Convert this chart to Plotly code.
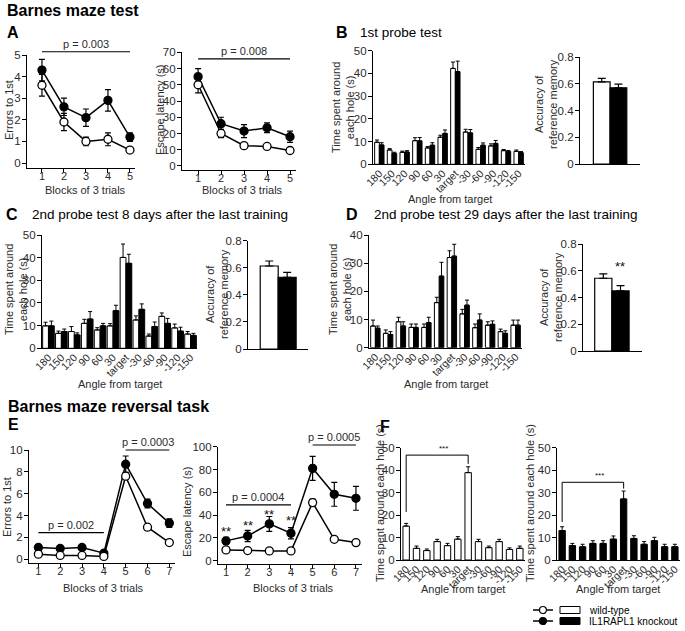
import plotly.graph_objects as go

W, H = 685, 631
FONT = "Arial, 'Liberation Sans', sans-serif"
TXT = "#2b2b2b"

# ---------------- data ----------------
blocks_a = [1, 2, 3, 4, 5]
a_err_wt = [3.6, 1.9, 1.0, 1.1, 0.6]
a_err_wt_se = [0.5, 0.4, 0.2, 0.3, 0.05]
a_err_ko = [4.3, 2.6, 2.1, 2.9, 1.2]
a_err_ko_se = [0.5, 0.4, 0.4, 0.5, 0.2]
a_lat_wt = [50, 20, 12.5, 12, 9.5]
a_lat_wt_se = [5, 2.5, 1, 1, 1]
a_lat_ko = [55, 26, 21.5, 23.5, 18]
a_lat_ko_se = [5, 4, 4, 3, 3.5]

angles = ["180", "150", "120", "90", "60", "30", "target", "-30", "-60", "-90", "-120", "-150"]

b_wt = [9.7, 6.3, 5.3, 10.4, 7.2, 11.9, 42.2, 14.2, 6.6, 8.1, 6.0, 5.7]
b_wt_se = [1.0, 0.6, 0.5, 1.3, 0.6, 0.9, 2.8, 1.2, 0.8, 0.9, 0.5, 0.6]
b_ko = [8.5, 4.8, 5.4, 10.3, 8.4, 13.6, 40.8, 13.8, 8.4, 9.2, 5.6, 5.1]
b_ko_se = [1.0, 0.5, 0.6, 1.5, 1.1, 1.5, 4.6, 1.5, 1.0, 1.3, 0.5, 0.5]
b_acc = [0.614, 0.570]
b_acc_se = [0.026, 0.027]

c_wt = [9.9, 6.6, 7.4, 11.0, 8.1, 9.9, 40.1, 12.5, 5.4, 14.1, 9.0, 6.3]
c_wt_se = [1.6, 1.0, 2.2, 1.8, 1.0, 1.0, 5.9, 1.8, 0.9, 1.5, 1.7, 1.1]
c_ko = [9.9, 7.4, 5.9, 12.9, 9.9, 16.6, 37.5, 17.2, 9.6, 11.0, 7.6, 5.7]
c_ko_se = [2.1, 1.1, 0.9, 3.3, 1.1, 2.4, 4.0, 2.4, 2.0, 2.2, 1.7, 0.9]
c_acc = [0.613, 0.530]
c_acc_se = [0.037, 0.036]

d_wt = [7.7, 5.1, 9.2, 7.2, 7.2, 16.0, 32.0, 12.0, 7.1, 8.0, 5.7, 8.0]
d_wt_se = [2.1, 1.2, 1.6, 1.2, 1.2, 1.9, 2.4, 1.6, 1.3, 1.2, 0.9, 1.8]
d_ko = [6.9, 4.7, 7.7, 7.2, 8.9, 25.4, 32.5, 15.1, 9.8, 8.3, 5.1, 8.0]
d_ko_se = [0.8, 1.0, 1.5, 1.2, 1.9, 4.9, 4.2, 1.8, 2.2, 1.2, 0.9, 1.8]
d_acc = [0.544, 0.449]
d_acc_se = [0.032, 0.040]

blocks_e = [1, 2, 3, 4, 5, 6, 7]
e_err_wt = [0.46, 0.34, 0.34, 0.25, 7.6, 2.93, 1.52]
e_err_wt_se = [0.1, 0.1, 0.1, 0.05, 0.3, 0.25, 0.15]
e_err_ko = [1.07, 0.98, 1.07, 0.55, 8.7, 5.1, 3.3]
e_err_ko_se = [0.15, 0.15, 0.15, 0.1, 0.75, 0.4, 0.4]
e_lat_wt = [9.4, 8.8, 8.5, 8.5, 50.9, 18.7, 15.8]
e_lat_wt_se = [1, 1, 0.8, 0.8, 3, 1.5, 1.5]
e_lat_ko = [17.3, 21.6, 32.2, 24.0, 81.0, 58.2, 54.7]
e_lat_ko_se = [3, 5, 6.5, 5, 10.5, 10.5, 10.5]

f_wt = [15.1, 5.2, 4.2, 8.2, 6.4, 9.3, 38.9, 8.2, 5.5, 8.2, 4.7, 5.2]
f_wt_se = [1.2, 1.0, 0.7, 1.0, 1.0, 1.1, 2.6, 1.0, 0.7, 1.0, 0.7, 1.0]
f_ko = [13.1, 6.4, 5.9, 7.4, 7.4, 9.3, 27.2, 9.6, 7.0, 8.6, 5.9, 5.9]
f_ko_se = [1.7, 1.0, 1.1, 1.2, 1.2, 1.4, 3.5, 1.2, 1.2, 1.5, 1.1, 1.1]

p_labels = ["p = 0.003", "p = 0.008", "p = 0.002", "p = 0.0003", "p = 0.0004", "p = 0.0005"]

# ---------------- layout geometry (pixels) ----------------
P = {
    1: dict(x=(27, 135), y=(168, 55), xr=[0.32, 5.23], yr=[-0.23, 5], dt=1, kind="line"),
    2: dict(x=(182, 296), y=(170, 52.3), xr=[0.30, 5.26], yr=[-2.5, 70], dt=10, kind="line"),
    3: dict(x=(373, 525), y=(164.3, 50.7), xr=[-0.5, 11.5], yr=[0, 50], dt=10, kind="bar"),
    4: dict(x=(580, 640), y=(164, 57), xr=[-1.3, 2.29], yr=[0, 0.8], dt=0.2, kind="acc"),
    5: dict(x=(42, 197), y=(348.3, 235), xr=[-0.5, 11.5], yr=[0, 50], dt=10, kind="bar"),
    6: dict(x=(248, 308), y=(349, 240.7), xr=[-1.18, 2.16], yr=[0, 0.8], dt=0.2, kind="acc"),
    7: dict(x=(369, 522), y=(347.7, 235), xr=[-0.5, 11.5], yr=[0, 40], dt=10, kind="bar"),
    8: dict(x=(583, 642), y=(351, 244), xr=[-1.18, 2.25], yr=[0, 0.8], dt=0.2, kind="acc"),
    9: dict(x=(29, 175), y=(563, 450), xr=[0.57, 7.26], yr=[-0.35, 10], dt=2, kind="line"),
    10: dict(x=(218, 362), y=(564, 446.7), xr=[0.63, 7.28], yr=[-3, 100], dt=20, kind="line"),
    11: dict(x=(401, 525), y=(560, 447.7), xr=[-0.5, 11.5], yr=[0, 50], dt=10, kind="bar"),
    12: dict(x=(557, 680), y=(560, 447.7), xr=[-0.5, 11.5], yr=[0, 50], dt=10, kind="bar"),
}


def PX(x):
    return x / W


def PY(y):
    return 1 - y / H


def xa(n):
    return "x" if n == 1 else f"x{n}"


def ya(n):
    return "y" if n == 1 else f"y{n}"


def xd(n):
    return xa(n) + " domain"


def yd(n):
    return ya(n) + " domain"


def fx(n, v):
    r = P[n]["xr"]
    return (v - r[0]) / (r[1] - r[0])


def fy(n, v):
    r = P[n]["yr"]
    return (v - r[0]) / (r[1] - r[0])


layout = dict(
    width=W, height=H, autosize=False,
    margin=dict(l=0, r=0, t=0, b=0, pad=0),
    paper_bgcolor="white", plot_bgcolor="white",
    showlegend=False, barmode="overlay",
    font=dict(family=FONT, size=11, color=TXT),
)

for n, p in P.items():
    xk = "xaxis" if n == 1 else f"xaxis{n}"
    yk = "yaxis" if n == 1 else f"yaxis{n}"
    xax = dict(domain=[PX(p["x"][0]), PX(p["x"][1])], anchor=ya(n), range=p["xr"],
               showline=True, linecolor="black", linewidth=1.2, showgrid=False,
               zeroline=False, fixedrange=True, automargin=False,
               tickfont=dict(family=FONT, size=11, color=TXT))
    if p["kind"] == "line":
        xax.update(tickmode="array", tickvals=blocks_e if n >= 9 else blocks_a,
                   ticks="outside", ticklen=4, tickcolor="black", tickwidth=1.2,
                   ticklabelstandoff=-6)
    elif p["kind"] == "bar":
        xax.update(type="category", categoryorder="array", categoryarray=angles,
                   tickmode="array", tickvals=angles, ticktext=angles,
                   ticks="", tickangle=-45, ticklabelstandoff=-2,
                   tickfont=dict(family=FONT, size=10.5, color=TXT))
    else:
        xax.update(showticklabels=False, ticks="")
    yax = dict(domain=[PY(p["y"][0]), PY(p["y"][1])], anchor=xa(n), range=p["yr"],
               showline=True, linecolor="black", linewidth=1.2, showgrid=False,
               zeroline=False, fixedrange=True, automargin=False, ticks="outside", ticklen=4,
               tickcolor="black", tickwidth=1.2, tick0=0, dtick=p["dt"], ticklabelstandoff=-1,
               tickfont=dict(family=FONT, size=11.5, color=TXT))
    layout[xk] = xax
    layout[yk] = yax

traces = []


def line_trace(n, x, y, e, filled):
    traces.append(go.Scatter(
        x=x, y=y, mode="lines+markers", xaxis=xa(n), yaxis=ya(n),
        line=dict(color="black", width=1.5),
        marker=dict(symbol="circle", size=8, color="black" if filled else "white",
                    line=dict(color="black", width=1.3)),
        error_y=dict(type="data", array=e, color="black", thickness=1.2, width=3),
        cliponaxis=False, showlegend=False))


def bar_trace(n, y, e, filled, w, off):
    traces.append(go.Bar(
        x=angles, y=y, xaxis=xa(n), yaxis=ya(n), width=w, offset=off,
        marker=dict(color="black" if filled else "white", line=dict(color="black", width=1)),
        error_y=dict(type="data", array=e, arrayminus=[0] * len(e), symmetric=False,
                     color="black", thickness=1, width=2),
        showlegend=False))


def acc_trace(n, y, e):
    traces.append(go.Bar(
        x=[0, 1], y=y, xaxis=xa(n), yaxis=ya(n), width=1, offset=-0.5,
        marker=dict(color=["white", "black"], line=dict(color="black", width=1.2)),
        error_y=dict(type="data", array=e, arrayminus=[0, 0], symmetric=False,
                     color="black", thickness=1.2, width=4),
        showlegend=False))


# A
line_trace(1, blocks_a, a_err_ko, a_err_ko_se, True)
line_trace(1, blocks_a, a_err_wt, a_err_wt_se, False)
line_trace(2, blocks_a, a_lat_ko, a_lat_ko_se, True)
line_trace(2, blocks_a, a_lat_wt, a_lat_wt_se, False)
# B
bar_trace(3, b_wt, b_wt_se, False, 0.37, -0.37)
bar_trace(3, b_ko, b_ko_se, True, 0.37, 0)
acc_trace(4, b_acc, b_acc_se)
# C
bar_trace(5, c_wt, c_wt_se, False, 0.45, -0.45)
bar_trace(5, c_ko, c_ko_se, True, 0.45, 0)
acc_trace(6, c_acc, c_acc_se)
# D
bar_trace(7, d_wt, d_wt_se, False, 0.37, -0.37)
bar_trace(7, d_ko, d_ko_se, True, 0.37, 0)
acc_trace(8, d_acc, d_acc_se)
# E
line_trace(9, blocks_e, e_err_ko, e_err_ko_se, True)
line_trace(9, blocks_e, e_err_wt, e_err_wt_se, False)
line_trace(10, blocks_e, e_lat_ko, e_lat_ko_se, True)
line_trace(10, blocks_e, e_lat_wt, e_lat_wt_se, False)
# F
bar_trace(11, f_wt, f_wt_se, False, 0.62, -0.31)
bar_trace(12, f_ko, f_ko_se, True, 0.62, -0.31)

ann = []
shapes = []


def text(x, y, s, size=11, angle=0, xanchor="center", yanchor="middle", color=TXT):
    ann.append(dict(x=PX(x), y=PY(y), xref="paper", yref="paper", text=s, showarrow=False,
                    font=dict(family=FONT, size=size, color=color), textangle=angle,
                    xanchor=xanchor, yanchor=yanchor))


def pbar(n, x0, x1, yv, label):
    shapes.append(dict(type="line", xref=xd(n), yref=yd(n), x0=fx(n, x0), x1=fx(n, x1),
                       y0=fy(n, yv), y1=fy(n, yv), line=dict(color="black", width=1.2)))
    ann.append(dict(xref=xd(n), yref=yd(n), x=fx(n, (x0 + x1) / 2), y=fy(n, yv),
                    yanchor="bottom", xanchor="center", text=label, showarrow=False,
                    font=dict(family=FONT, size=11, color=TXT)))


def stars(n, xv, yv, s="**", size=13):
    ann.append(dict(xref=xd(n), yref=yd(n), x=fx(n, xv), y=fy(n, yv), text=s,
                    showarrow=False, xanchor="center", yanchor="middle",
                    font=dict(family=FONT, size=size, color="#111")))


def bracket(n, c0, c1, ytop, yleft, yright, label):
    for (xa0, ya0, xa1, ya1) in [(c0, yleft, c0, ytop), (c0, ytop, c1, ytop), (c1, ytop, c1, yright)]:
        shapes.append(dict(type="line", xref=xd(n), yref=yd(n), x0=fx(n, xa0), x1=fx(n, xa1),
                           y0=fy(n, ya0), y1=fy(n, ya1), line=dict(color="black", width=1)))
    ann.append(dict(xref=xd(n), yref=yd(n), x=fx(n, (c0 + c1) / 2), y=fy(n, ytop),
                    yanchor="bottom", text=label, showarrow=False,
                    font=dict(family=FONT, size=8, color="#111")))


# section titles and panel letters
text(5, 11, "<b>Barnes maze test</b>", size=16, xanchor="left", color="black")
text(5, 33, "<b>A</b>", size=16, xanchor="left", color="black")
text(334, 33, "<b>B</b>", size=16, xanchor="left", color="black")
text(358, 33, "1st probe test", size=13.5, xanchor="left", color="black")
text(4, 214, "<b>C</b>", size=16, xanchor="left", color="black")
text(30, 214, "2nd probe test 8 days after the last training", size=13.5, xanchor="left", color="black")
text(344, 214, "<b>D</b>", size=16, xanchor="left", color="black")
text(372, 214, "2nd probe test 29 days after the last training", size=13.5, xanchor="left", color="black")
text(6, 406, "<b>Barnes maze reversal task</b>", size=16, xanchor="left", color="black")
text(6, 424, "<b>E</b>", size=16, xanchor="left", color="black")
text(378, 426, "<b>F</b>", size=16, xanchor="left", color="black")

# axis titles
text(85, 190, "Blocks of 3 trials")
text(243, 190, "Blocks of 3 trials")
text(103, 588, "Blocks of 3 trials")
text(293, 588, "Blocks of 3 trials")
text(450, 199, "Angle from target")
text(120, 384, "Angle from target")
text(446, 384, "Angle from target")
text(463, 589, "Angle from target")
text(618, 589, "Angle from target")
text(9, 110, "Errors to 1st", angle=-90)
text(160, 110, "Escape latency (s)", angle=-90)
text(7, 507, "Errors to 1st", angle=-90)
text(187, 512, "Escape latency (s)", angle=-90)
text(343, 108, "Time spent around<br>each hole (s)", angle=-90)
text(16, 290, "Time spent around<br>each hole (s)", angle=-90)
text(340, 290, "Time spent around<br>each hole (s)", angle=-90)
text(546, 104, "Accuracy of<br>reference memory", angle=-90)
text(217, 294, "Accuracy of<br>reference memory", angle=-90)
text(551, 297, "Accuracy of<br>reference memory", angle=-90)
text(380, 503, "Time spent around each hole (s)", angle=-90)
text(530, 503, "Time spent around each hole (s)", angle=-90)

# p-value bars
pbar(1, 1, 5, 5.15, p_labels[0])
pbar(2, 1, 5, 66, p_labels[1])
pbar(9, 1, 4, 2.44, p_labels[2])
pbar(9, 5, 7, 10.0, p_labels[3])
pbar(10, 1, 4, 49, p_labels[4])
pbar(10, 5, 7, 101.5, p_labels[5])

# significance stars
stars(8, 1, 0.63)
stars(10, 1, 25.5)
stars(10, 2, 30.5)
stars(10, 3, 40.5)
stars(10, 4, 35)

# brackets in F
bracket(11, 0, 6, 46.7, 21.4, 42.8, "***")
bracket(12, 0, 6, 34.6, 16.9, 31.8, "***")

# legend
for yy, filled, lab in [(610, False, "wild-type"), (621, True, "IL1RAPL1 knockout")]:
    shapes.append(dict(type="line", xref="paper", yref="paper", x0=PX(533), x1=PX(553),
                       y0=PY(yy), y1=PY(yy), line=dict(color="black", width=1.5)))
    shapes.append(dict(type="circle", xref="paper", yref="paper", x0=PX(539.5), x1=PX(546.5),
                       y0=PY(yy + 3.5), y1=PY(yy - 3.5), fillcolor="black" if filled else "white",
                       line=dict(color="black", width=1.2)))
    shapes.append(dict(type="rect", xref="paper", yref="paper", x0=PX(560), x1=PX(580),
                       y0=PY(yy + 3.5), y1=PY(yy - 3.5), fillcolor="black" if filled else "white",
                       line=dict(color="black", width=1)))
    text(587, yy, lab, size=10, xanchor="left", color="black")

layout["annotations"] = ann
layout["shapes"] = shapes

fig = go.Figure(data=traces, layout=layout)
fig.write_html("out.html", config={"displayModeBar": False},
               post_script="document.body.style.margin='0';document.body.style.padding='0';"
                           "document.documentElement.style.overflow='hidden';")
